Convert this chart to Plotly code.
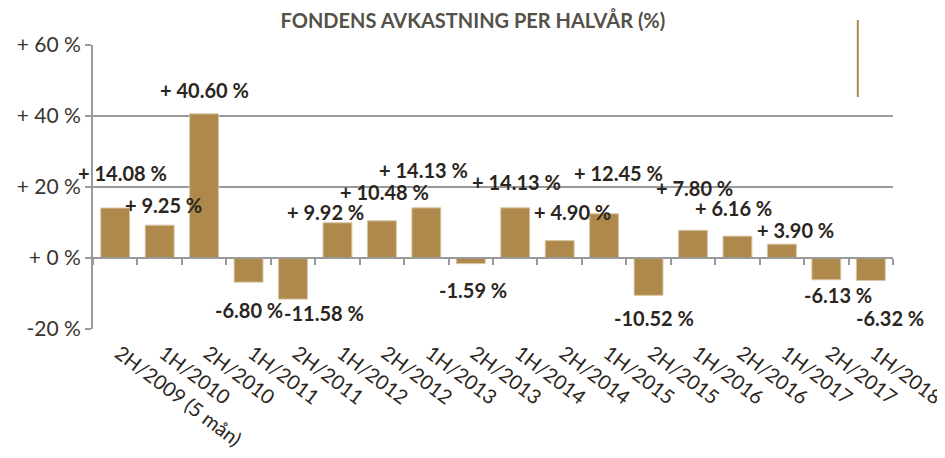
import plotly.graph_objects as go

categories = ["2H/2009 (5 mån)", "1H/2010", "2H/2010", "1H/2011", "2H/2011", "1H/2012",
              "2H/2012", "1H/2013", "2H/2013", "1H/2014", "2H/2014", "1H/2015",
              "2H/2015", "1H/2016", "2H/2016", "1H/2017", "2H/2017", "1H/2018"]
returns = [14.08, 9.25, 40.60, -6.80, -11.58, 9.92, 10.48, 14.13, -1.59, 14.13,
           4.90, 12.45, -10.52, 7.80, 6.16, 3.90, -6.13, -6.32]
y_tickvals = [-20, 0, 20, 40, 60]
y_ticktext = ["-20 %", "+ 0 %", "+ 20 %", "+ 40 %", "+ 60 %"]

# value-label nudges (pixels) as in the original layout: distance outward from bar end, sideways shift
label_gap_px = [35, 20, 24, 28, 14, 11, 29, 38, 26, 26, 29, 41, 23, 42, 28, 14, 15, 38]
label_dx_px = [7, 4, 0, 0, 31, -12, 3, -3, 2, 1, 13, 14, 5, 1, -4, 14, 12, 19]

BAR = "#AE894B"
GRID = "#9a9a9a"
TXT = "#2b2520"
FONT = "Lato"

def fmt(v):
    return f"+ {v:.2f} %" if v >= 0 else f"{v:.2f} %"

n = len(categories)
fig = go.Figure()
fig.add_trace(go.Bar(x=categories, y=returns, marker=dict(color=BAR, line=dict(color="#d8c6a4", width=1)),
                     hoverinfo="skip", showlegend=False))
# helper trace for the zero-line axis with ticks
fig.add_trace(go.Scatter(x=categories, y=returns, xaxis="x2", mode="markers",
                         marker=dict(opacity=0, size=1), hoverinfo="skip", showlegend=False))

for c, v, g, dx in zip(categories, returns, label_gap_px, label_dx_px):
    fig.add_annotation(x=c, y=v, text=fmt(v), showarrow=False,
                       yshift=g if v >= 0 else -g, xshift=dx,
                       font=dict(family=FONT, size=20, color=TXT, weight="bold"))

fig.update_layout(
    width=945, height=458,
    margin=dict(l=85, r=60, t=37, b=137, autoexpand=False),
    paper_bgcolor="white", plot_bgcolor="white",
    bargap=0.35,
    title=dict(text="<b>FONDENS AVKASTNING PER HALVÅR (%)</b>", x=0.492, xanchor="center",
               y=0.9716, yanchor="middle",
               font=dict(family=FONT, size=20, color="#555048")),
    xaxis=dict(type="category", range=[-0.5, n - 0.5], tickangle=37, showgrid=False,
               showline=False, ticks="", automargin=False,
               ticklabelshift=4, ticklabelstandoff=8,
               tickfont=dict(family=FONT, size=20, color=TXT)),
    xaxis2=dict(type="category", overlaying="x", matches="x", anchor="free", position=0.25,
                side="bottom", showticklabels=False, showline=True, linecolor=GRID, linewidth=2,
                ticks="outside", tickson="boundaries", ticklen=6, tickcolor=GRID, tickwidth=2,
                showgrid=False, automargin=False),
    yaxis=dict(range=[-20, 60], tickvals=y_tickvals, ticktext=y_ticktext,
               showgrid=True, gridcolor=GRID, gridwidth=2, zeroline=False,
               showline=True, linecolor=GRID, linewidth=2, automargin=False,
               ticks="outside", ticklen=6, tickcolor=GRID, tickwidth=2,
               tickfont=dict(family=FONT, size=21, color="#3a342e")),
    shapes=[dict(type="line", xref="paper", yref="paper", x0=0.956, x1=0.956,
                 y0=1.088, y1=0.817, line=dict(color=BAR, width=2))],
)

fig.write_html("out.html")
